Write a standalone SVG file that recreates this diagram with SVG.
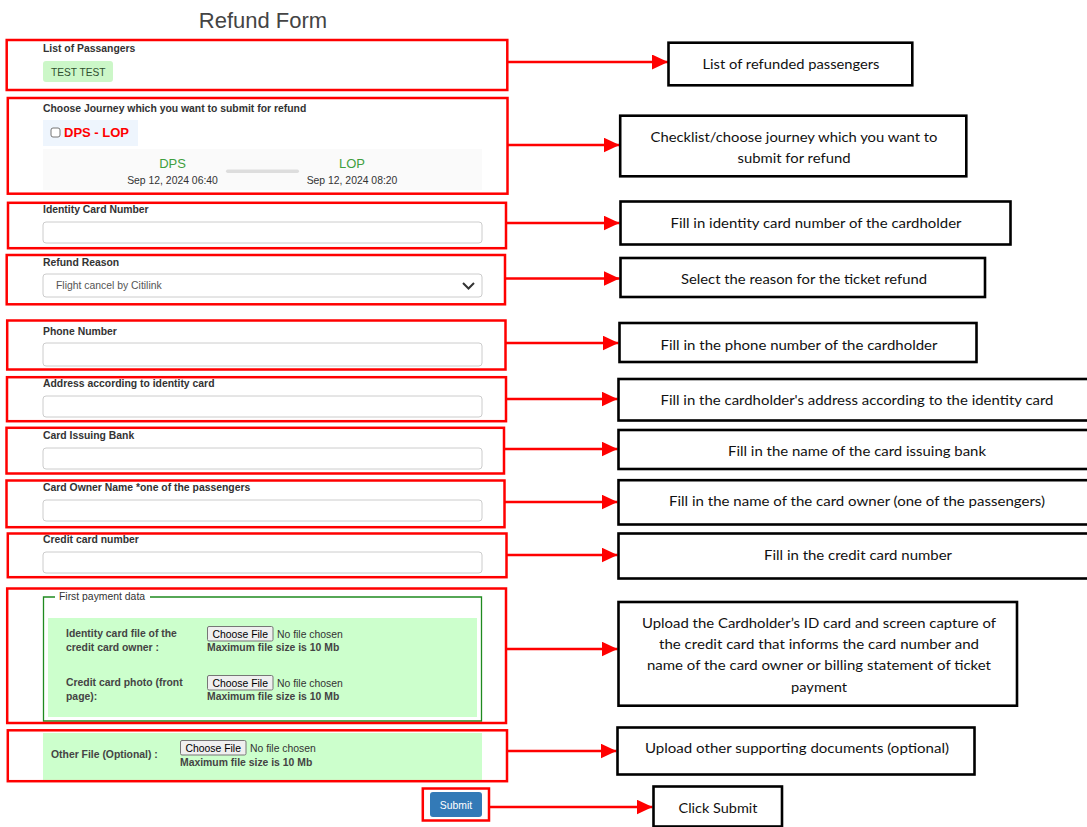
<svg xmlns="http://www.w3.org/2000/svg" width="1087" height="827" viewBox="0 0 1087 827">
<style>
text{font-family:"Liberation Sans",Arial,sans-serif}
.title{font-size:22px;fill:#444}
.lbl{font-size:10.4px;font-weight:bold;fill:#333}
.reg{font-size:10.4px;fill:#333}
.hl{fill:none;stroke:#ff0000;stroke-width:2.5}
.inp{fill:#fff;stroke:#cccccc;stroke-width:1}
.note{fill:#fff;stroke:#000;stroke-width:2.6}
.nt{font-family:Lato,"Open Sans",sans-serif;font-size:14px;fill:#111;text-anchor:middle}
.con{stroke:#ff0000;stroke-width:2.5;fill:none}
.btn{fill:#efefef;stroke:#767676;stroke-width:1}
.bt{font-size:10.4px;fill:#000}
.flbl{font-size:10.4px;font-weight:bold;fill:#444}
.green{fill:#ccffcc}
</style>
<defs>
<marker id="ah" markerWidth="7" markerHeight="6" refX="6.4" refY="3" orient="auto" markerUnits="strokeWidth">
<path d="M0,0 L6.4,3 L0,6 Z" fill="#ff0000"/>
</marker>
</defs>
<rect width="1087" height="827" fill="#fff"/>

<text class="title" x="263" y="28" text-anchor="middle">Refund Form</text>

<g id="form-passengers">
<text class="lbl" x="43" y="52">List of Passangers</text>
<rect x="43" y="61" width="70" height="21" rx="3" fill="#ccf7c8"/>
<text x="51" y="75.5" style="font-size:10.2px;fill:#2f4f2f">TEST TEST</text>
<rect class="hl" x="6.7" y="40" width="500.6" height="50"/>
</g>

<g id="form-journey">
<text class="lbl" x="43" y="112">Choose Journey which you want to submit for refund</text>
<rect x="43" y="120" width="95" height="26" fill="#eef5fd"/>
<rect x="51" y="128" width="9" height="9" rx="2" fill="#fff" stroke="#767676" stroke-width="1"/>
<text x="64" y="137" style="font-size:13px;font-weight:bold;fill:#ff0000">DPS - LOP</text>
<rect x="43" y="149" width="439" height="41" fill="#fafafa"/>
<text x="172.5" y="168" text-anchor="middle" style="font-size:13px;fill:#3f9f3f">DPS</text>
<text x="352" y="168" text-anchor="middle" style="font-size:13px;fill:#3f9f3f">LOP</text>
<rect x="226" y="169.5" width="73" height="3.5" rx="1.7" fill="#dddddd"/>
<text class="reg" x="172.5" y="183.5" text-anchor="middle">Sep 12, 2024 06:40</text>
<text class="reg" x="352" y="183.5" text-anchor="middle">Sep 12, 2024 08:20</text>
<rect class="hl" x="7.8" y="98" width="499.7" height="95.7"/>
</g>

<g id="form-identity">
<text class="lbl" x="43" y="213">Identity Card Number</text>
<rect class="inp" x="43" y="222" width="439" height="21" rx="3"/>
<rect class="hl" x="8" y="202.8" width="498" height="45.4"/>
</g>

<g id="form-reason">
<text class="lbl" x="43" y="266">Refund Reason</text>
<rect class="inp" x="43" y="274" width="439" height="23" rx="3"/>
<text x="56" y="289" style="font-size:10.4px;fill:#555">Flight cancel by Citilink</text>
<path d="M463,283 L468.5,288.5 L474,283" fill="none" stroke="#333" stroke-width="2"/>
<rect class="hl" x="6.7" y="255" width="498.3" height="49.3"/>
</g>

<g id="form-phone">
<text class="lbl" x="43" y="335">Phone Number</text>
<rect class="inp" x="43" y="343" width="439" height="23" rx="3"/>
<rect class="hl" x="7.2" y="320.5" width="498.3" height="49"/>
</g>

<g id="form-address">
<text class="lbl" x="43" y="387">Address according to identity card</text>
<rect class="inp" x="43" y="396" width="439" height="21" rx="3"/>
<rect class="hl" x="7" y="377.2" width="499" height="44"/>
</g>

<g id="form-bank">
<text class="lbl" x="43" y="439">Card Issuing Bank</text>
<rect class="inp" x="43" y="448" width="439" height="21" rx="3"/>
<rect class="hl" x="6.5" y="427.8" width="497.5" height="45.7"/>
</g>

<g id="form-owner">
<text class="lbl" x="43" y="491">Card Owner Name *one of the passengers</text>
<rect class="inp" x="43" y="500" width="439" height="21" rx="3"/>
<rect class="hl" x="6.5" y="480.5" width="498" height="46.7"/>
</g>

<g id="form-credit">
<text class="lbl" x="43" y="543">Credit card number</text>
<rect class="inp" x="43" y="552" width="439" height="21" rx="3"/>
<rect class="hl" x="7.8" y="533.5" width="498.7" height="43.7"/>
</g>

<g id="form-payment">
<path d="M55,597 H43.5 V721 H481.5 V597 H150" fill="none" stroke="#1f8a1f" stroke-width="1.3"/>
<text class="reg" x="59" y="600">First payment data</text>
<rect class="green" x="48" y="618" width="429" height="99"/>
<text class="flbl" x="66" y="637">Identity card file of the</text>
<text class="flbl" x="66" y="651">credit card owner :</text>
<rect class="btn" x="207.5" y="626.5" width="65.5" height="14.5" rx="1.5"/>
<text class="bt" x="212.5" y="637.5">Choose File</text>
<text class="reg" x="277" y="638">No file chosen</text>
<text class="flbl" x="207" y="651">Maximum file size is 10 Mb</text>
<text class="flbl" x="66" y="686">Credit card photo (front</text>
<text class="flbl" x="66" y="700">page):</text>
<rect class="btn" x="207.5" y="675.5" width="65.5" height="14.5" rx="1.5"/>
<text class="bt" x="212.5" y="686.5">Choose File</text>
<text class="reg" x="277" y="687">No file chosen</text>
<text class="flbl" x="207" y="700">Maximum file size is 10 Mb</text>
<rect class="hl" x="7.2" y="588.5" width="498.8" height="134.5"/>
</g>

<g id="form-other">
<rect class="green" x="43" y="733" width="439" height="47"/>
<text class="flbl" x="51" y="758">Other File (Optional) :</text>
<rect class="btn" x="180.5" y="740.5" width="65.5" height="14.5" rx="1.5"/>
<text class="bt" x="185.5" y="751.5">Choose File</text>
<text class="reg" x="250" y="752">No file chosen</text>
<text class="flbl" x="180" y="766">Maximum file size is 10 Mb</text>
<rect class="hl" x="7.8" y="730.3" width="499.2" height="50.9"/>
</g>

<g id="form-submit">
<rect x="430" y="792" width="52" height="25" rx="3" fill="#337ab7"/>
<text x="456" y="808.5" text-anchor="middle" style="font-size:10.4px;fill:#fff">Submit</text>
<rect class="hl" x="422.8" y="788.5" width="66.2" height="32"/>
</g>

<g id="connectors">
<line class="con" x1="507.3" y1="62" x2="668" y2="62" marker-end="url(#ah)"/>
<line class="con" x1="507.5" y1="145" x2="619.5" y2="145" marker-end="url(#ah)"/>
<line class="con" x1="506" y1="223" x2="619.5" y2="223" marker-end="url(#ah)"/>
<line class="con" x1="505" y1="278.5" x2="619.5" y2="278.5" marker-end="url(#ah)"/>
<line class="con" x1="505.5" y1="343" x2="618.5" y2="343" marker-end="url(#ah)"/>
<line class="con" x1="506" y1="399" x2="617.5" y2="399" marker-end="url(#ah)"/>
<line class="con" x1="504" y1="449" x2="617.5" y2="449" marker-end="url(#ah)"/>
<line class="con" x1="504.5" y1="502" x2="617.5" y2="502" marker-end="url(#ah)"/>
<line class="con" x1="506.5" y1="555" x2="617.5" y2="555" marker-end="url(#ah)"/>
<line class="con" x1="506" y1="649" x2="617.5" y2="649" marker-end="url(#ah)"/>
<line class="con" x1="507" y1="751" x2="616.5" y2="751" marker-end="url(#ah)"/>
<line class="con" x1="489" y1="807" x2="652.5" y2="807" marker-end="url(#ah)"/>
</g>

<g id="note-passengers">
<rect class="note" x="668.5" y="42.7" width="243.8" height="42.6"/>
<text class="nt" x="791" y="69" textLength="177" lengthAdjust="spacingAndGlyphs">List of refunded passengers</text>
</g>
<g id="note-journey">
<rect class="note" x="620.2" y="115.7" width="346.1" height="60.6"/>
<text class="nt" x="794" y="142" textLength="287" lengthAdjust="spacingAndGlyphs">Checklist/choose journey which you want to</text>
<text class="nt" x="794" y="163" textLength="113" lengthAdjust="spacingAndGlyphs">submit for refund</text>
</g>
<g id="note-identity">
<rect class="note" x="620.5" y="201.5" width="390" height="43"/>
<text class="nt" x="816" y="228" textLength="291" lengthAdjust="spacingAndGlyphs">Fill in identity card number of the cardholder</text>
</g>
<g id="note-reason">
<rect class="note" x="620.5" y="258" width="364.5" height="39"/>
<text class="nt" x="804" y="283.5" textLength="246" lengthAdjust="spacingAndGlyphs">Select the reason for the ticket refund</text>
</g>
<g id="note-phone">
<rect class="note" x="619.5" y="323" width="357" height="39"/>
<text class="nt" x="799" y="350" textLength="277" lengthAdjust="spacingAndGlyphs">Fill in the phone number of the cardholder</text>
</g>
<g id="note-address">
<rect class="note" x="618.5" y="379" width="480" height="41.5"/>
<text class="nt" x="857" y="405" textLength="393" lengthAdjust="spacingAndGlyphs">Fill in the cardholder's address according to the identity card</text>
</g>
<g id="note-bank">
<rect class="note" x="618.5" y="430" width="480" height="39"/>
<text class="nt" x="857" y="456" textLength="258" lengthAdjust="spacingAndGlyphs">Fill in the name of the card issuing bank</text>
</g>
<g id="note-owner">
<rect class="note" x="618.5" y="480.2" width="480" height="44.3"/>
<text class="nt" x="857" y="506" textLength="376" lengthAdjust="spacingAndGlyphs">Fill in the name of the card owner (one of the passengers)</text>
</g>
<g id="note-credit">
<rect class="note" x="618.5" y="533.5" width="480" height="45"/>
<text class="nt" x="858" y="560" textLength="188" lengthAdjust="spacingAndGlyphs">Fill in the credit card number</text>
</g>
<g id="note-upload">
<rect class="note" x="618.5" y="602" width="398.5" height="103.7"/>
<text class="nt" x="819" y="628" textLength="354" lengthAdjust="spacingAndGlyphs">Upload the Cardholder’s ID card and screen capture of</text>
<text class="nt" x="819" y="649" textLength="320" lengthAdjust="spacingAndGlyphs">the credit card that informs the card number and</text>
<text class="nt" x="819" y="670" textLength="344" lengthAdjust="spacingAndGlyphs">name of the card owner or billing statement of ticket</text>
<text class="nt" x="819" y="692" textLength="56" lengthAdjust="spacingAndGlyphs">payment</text>
</g>
<g id="note-other">
<rect class="note" x="617.5" y="727.5" width="357" height="47"/>
<text class="nt" x="797" y="753" textLength="304" lengthAdjust="spacingAndGlyphs">Upload other supporting documents (optional)</text>
</g>
<g id="note-submit">
<rect class="note" x="653.5" y="786.5" width="128.5" height="40"/>
<text class="nt" x="718" y="813" textLength="79" lengthAdjust="spacingAndGlyphs">Click Submit</text>
</g>
</svg>
